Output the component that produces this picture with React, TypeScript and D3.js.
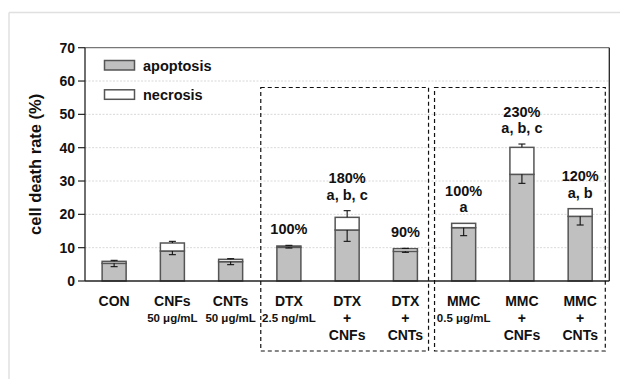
import React from "react";
import * as d3 from "d3";

const categories = ["CON", "CNFs", "CNTs", "DTX", "DTX+CNFs", "DTX+CNTs", "MMC", "MMC+CNFs", "MMC+CNTs"];
const xLabelLines = [
  ["CON"],
  ["CNFs", "50 μg/mL"],
  ["CNTs", "50 μg/mL"],
  ["DTX", "2.5 ng/mL"],
  ["DTX", "+", "CNFs"],
  ["DTX", "+", "CNTs"],
  ["MMC", "0.5 μg/mL"],
  ["MMC", "+", "CNFs"],
  ["MMC", "+", "CNTs"],
];
const apoptosis = [5.3, 9.0, 5.8, 10.1, 15.3, 8.9, 16.0, 32.0, 19.4];
const apoptosisErr = [1.0, 1.1, 0.9, 0.2, 3.4, 0.3, 2.4, 2.7, 2.6];
const necrosis = [0.6, 2.4, 0.7, 0.4, 3.8, 0.8, 1.3, 8.1, 2.3];
const necrosisErr = [0.3, 0.5, 0.2, 0.2, 2.0, 0.1, 0, 1.0, 0];
const annotations = [[], [], [], ["100%"], ["180%", "a, b, c"], ["90%"], ["100%", "a"], ["230%", "a, b, c"], ["120%", "a, b"]];
const yTicks = [0, 10, 20, 30, 40, 50, 60, 70];
const gridTicks = [10, 20, 30, 40, 50, 60];
const legendItems = ["apoptosis", "necrosis"];
const groupBoxes = [
  { from: "DTX", to: "DTX+CNTs" },
  { from: "MMC", to: "MMC+CNTs" },
];

const W = 620;
const H = 379;
const left = 85;
const right = 609.3;
const top = 47.7;
const bottom = 281;
const FONT = "'Liberation Sans', Arial, sans-serif";

export default function App() {
  const x = d3.scaleBand<string>().domain(categories).range([left, right]).paddingInner(0.588).paddingOuter(0.294);
  const y = d3.scaleLinear().domain([0, 70]).range([bottom, top]);
  const bw = x.bandwidth();
  const step = x.step();
  const cx = (c: string) => (x(c) as number) + bw / 2;
  const cap = 3.5;

  return (
    <svg width={W} height={H} style={{ position: "absolute", left: 0, top: 0, background: "#fff" }} fontFamily={FONT}>
      <line x1={9} y1={12.5} x2={W} y2={12.5} stroke="#e0e0e0" strokeWidth={1.5} />
      <line x1={9} y1={12.5} x2={9} y2={H} stroke="#e0e0e0" strokeWidth={1.5} />

      {gridTicks.map((t) => (
        <line key={t} x1={left} x2={right} y1={y(t)} y2={y(t)} stroke="#cfcfcf" strokeWidth={0.8} strokeDasharray="2,1.5" />
      ))}

      <line x1={left} x2={right} y1={top} y2={top} stroke="#777" strokeWidth={1.3} />
      <line x1={right} x2={right} y1={top} y2={bottom} stroke="#222" strokeWidth={1.3} />

      {categories.map((c, i) => {
        const x0 = x(c) as number;
        const a = apoptosis[i];
        const t = a + necrosis[i];
        return (
          <g key={c}>
            <rect x={x0} y={y(a)} width={bw} height={y(0) - y(a)} fill="#c0c0c0" stroke="#555" strokeWidth={1.5} />
            <rect x={x0} y={y(t)} width={bw} height={y(a) - y(t)} fill="#fff" stroke="#555" strokeWidth={1.5} />
            {apoptosisErr[i] > 0 && (
              <g stroke="#111" strokeWidth={1.1}>
                <line x1={cx(c)} x2={cx(c)} y1={y(a)} y2={y(a - apoptosisErr[i])} />
                <line x1={cx(c) - cap} x2={cx(c) + cap} y1={y(a - apoptosisErr[i])} y2={y(a - apoptosisErr[i])} />
              </g>
            )}
            {necrosisErr[i] > 0 && (
              <g stroke="#111" strokeWidth={1.1}>
                <line x1={cx(c)} x2={cx(c)} y1={y(t)} y2={y(t + necrosisErr[i])} />
                <line x1={cx(c) - cap} x2={cx(c) + cap} y1={y(t + necrosisErr[i])} y2={y(t + necrosisErr[i])} />
              </g>
            )}
            {annotations[i].map((txt, j) => {
              const n = annotations[i].length;
              const base = y(t + necrosisErr[i]) - 11 - (n - 1 - j) * 16.5;
              return (
                <text key={j} x={cx(c)} y={base} textAnchor="middle" fontSize={14.5} fontWeight="bold" fill="#111">
                  {txt}
                </text>
              );
            })}
          </g>
        );
      })}

      <line x1={left} x2={right} y1={bottom} y2={bottom} stroke="#222" strokeWidth={1.3} />
      <line x1={left} x2={left} y1={top} y2={bottom} stroke="#222" strokeWidth={1.3} />
      {yTicks.map((t) => (
        <g key={t}>
          <line x1={left - 7} x2={left} y1={y(t)} y2={y(t)} stroke="#222" strokeWidth={1.2} />
          <text x={left - 10} y={y(t) + 5} textAnchor="end" fontSize={14} fontWeight="bold" fill="#111">
            {t}
          </text>
        </g>
      ))}
      <text
        transform={`translate(41,${(top + bottom) / 2}) rotate(-90)`}
        textAnchor="middle"
        fontSize={16.5}
        fontWeight="bold"
        fill="#111"
      >
        cell death rate (%)
      </text>

      {categories.map((c, i) => (
        <g key={c}>
          {xLabelLines[i].map((txt, j) => {
            const small = j === 1 && txt !== "+";
            const baseline = j === 0 ? 306 : j === 1 ? (small ? 321.5 : 322.8) : 340;
            return (
              <text key={j} x={cx(c)} y={baseline} textAnchor="middle" fontSize={small ? 11.5 : 14} fontWeight="bold" fill="#111">
                {txt}
              </text>
            );
          })}
        </g>
      ))}

      {groupBoxes.map((g, k) => {
        const iFrom = categories.indexOf(g.from);
        const iTo = categories.indexOf(g.to);
        const x1 = cx(g.from) - step / 2 + (k === 0 ? 1 : 0);
        const x2 = k === 0 ? cx(g.to) + step / 2 - 6 : right - 4;
        return (
          <rect
            key={iFrom + "-" + iTo}
            x={x1}
            y={87.5}
            width={x2 - x1}
            height={351 - 87.5}
            fill="none"
            stroke="#111"
            strokeWidth={1.2}
            strokeDasharray="4,3"
          />
        );
      })}

      {legendItems.map((l, i) => (
        <g key={l}>
          <rect x={104.5} y={60.5 + i * 29.3} width={30} height={9.5} fill={i === 0 ? "#c0c0c0" : "#fff"} stroke="#555" strokeWidth={1.5} />
          <text x={143} y={65.7 + i * 29.5 + 5} fontSize={14.5} fontWeight="bold" fill="#111">
            {l}
          </text>
        </g>
      ))}
    </svg>
  );
}
